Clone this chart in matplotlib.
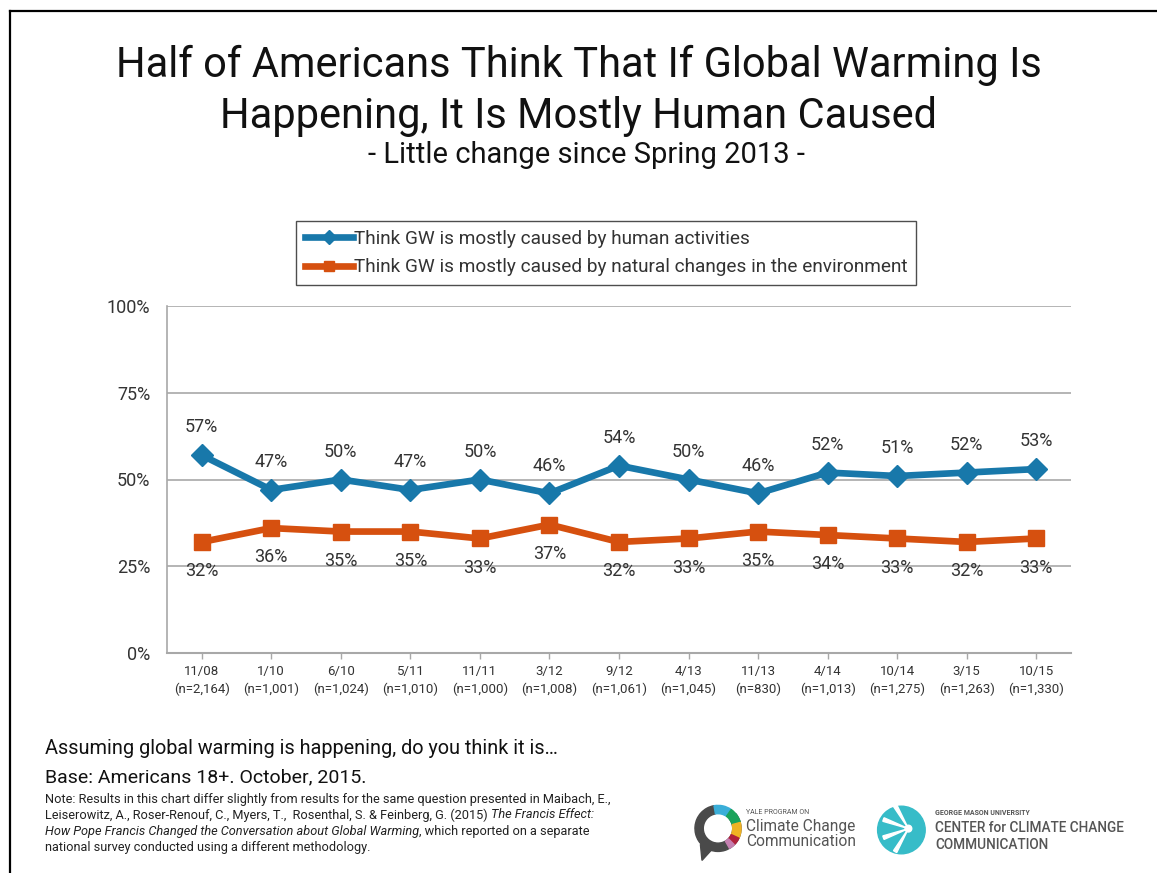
import matplotlib
matplotlib.use("Agg")
import matplotlib.pyplot as plt
from matplotlib.patches import Wedge, Circle, Polygon
from matplotlib.lines import Line2D

plt.rcParams['font.family'] = ['Roboto', 'DejaVu Sans']

# ---- data ----
dates = ["11/08", "1/10", "6/10", "5/11", "11/11", "3/12", "9/12",
         "4/13", "11/13", "4/14", "10/14", "3/15", "10/15"]
sample_n = ["2,164", "1,001", "1,024", "1,010", "1,000", "1,008", "1,061",
            "1,045", "830", "1,013", "1,275", "1,263", "1,330"]
human = [57, 47, 50, 47, 50, 46, 54, 50, 46, 52, 51, 52, 53]
natural = [32, 36, 35, 35, 33, 37, 32, 33, 35, 34, 33, 32, 33]
yticks = [0, 25, 50, 75, 100]
series_names = ["Think GW is mostly caused by human activities",
                "Think GW is mostly caused by natural changes in the environment"]

BLUE = "#1878aa"
ORANGE = "#d6500f"
GRID = "#a8a8a8"
TXT = "#333333"

W, H = 1157, 873
fig = plt.figure(figsize=(W / 100, H / 100), dpi=100)

def fx(px):
    return px / W

def fy(py):
    return 1 - py / H

# page border (left and top)
fig.add_artist(Line2D([fx(10), fx(10)], [0, fy(11)], color="black", lw=1.6))
fig.add_artist(Line2D([fx(10), 1], [fy(11), fy(11)], color="black", lw=1.6))

# titles
fig.text(0.5, fy(91), "Half of Americans Think That If Global Warming Is\nHappening, It Is Mostly Human Caused",
         ha="center", va="center", fontsize=30, color="#111111", linespacing=1.32)
fig.text(fx(587), fy(155), "- Little change since Spring 2013 -", ha="center", va="center",
         fontsize=21, color="#111111")

# main axes
ax = fig.add_axes([fx(167), fy(653), fx(1071) - fx(167), fy(306) - fy(653)])
x = list(range(len(dates)))
l1, = ax.plot(x, human, color=BLUE, lw=4.8, marker="D", markersize=11, zorder=3,
              label=series_names[0])
l2, = ax.plot(x, natural, color=ORANGE, lw=4.8, marker="s", markersize=12, zorder=3,
              label=series_names[1])
for xi, v in zip(x, human):
    ax.annotate(f"{v}%", (xi, v), xytext=(0, 20), textcoords="offset points",
                ha="center", va="center", fontsize=13, color=TXT)
for xi, v in zip(x, natural):
    ax.annotate(f"{v}%", (xi, v), xytext=(0, -21), textcoords="offset points",
                ha="center", va="center", fontsize=13, color=TXT)

ax.set_xlim(-0.5, len(dates) - 0.5)
ax.set_ylim(0, 100)
ax.set_yticks(yticks)
ax.set_yticklabels([f"{t}%" for t in yticks])
ax.tick_params(axis="y", length=0, pad=12, labelsize=13, labelcolor=TXT)
ax.set_xticks(x)
ax.set_xticklabels([f"{d}\n(n={n})" for d, n in zip(dates, sample_n)],
                   fontsize=9.5, color=TXT, linespacing=1.35)
ax.tick_params(axis="x", length=4, width=1, color=GRID, pad=5)
ax.grid(axis="y", color=GRID, lw=1.2)
ax.set_axisbelow(True)
for s in ["top", "right"]:
    ax.spines[s].set_visible(False)
ax.spines["left"].set_color(GRID)
ax.spines["bottom"].set_color(GRID)
ax.spines["left"].set_linewidth(1.2)
ax.spines["bottom"].set_linewidth(1.5)

leg = fig.legend(handles=[l1, l2], loc="center", bbox_to_anchor=(fx(606), fy(253)),
                 fontsize=13.7, frameon=True, fancybox=False, edgecolor="#222222",
                 handlelength=2.5, handletextpad=0.05, borderpad=0.45, labelspacing=0.55,
                 markerscale=0.65, borderaxespad=0)
leg.get_frame().set_linewidth(1.0)
for t in leg.get_texts():
    t.set_color(TXT)

# footer text
fig.text(fx(45), fy(748), "Assuming global warming is happening, do you think it is…",
         ha="left", va="center", fontsize=14.3, color="#111111")
fig.text(fx(45), fy(777), "Base: Americans 18+. October, 2015.",
         ha="left", va="center", fontsize=14, color="#111111")

renderer = fig.canvas.get_renderer()
note_fs = 9.2
note_lines = [
    [("Note: Results in this chart differ slightly from results for the same question presented in Maibach, E.,", "normal")],
    [("Leiserowitz, A., Roser-Renouf, C., Myers, T.,  Rosenthal, S. & Feinberg, G. (2015) ", "normal"),
     ("The Francis Effect:", "italic")],
    [("How Pope Francis Changed the Conversation about Global Warming", "italic"),
     (", which reported on a separate", "normal")],
    [("national survey conducted using a different methodology.", "normal")],
]
for i, parts in enumerate(note_lines):
    xpos = fx(45)
    ypos = fy(799 + i * 16)
    for txt, style in parts:
        t = fig.text(xpos, ypos, txt, ha="left", va="center", fontsize=note_fs,
                     style=style, color="#222222")
        bb = t.get_window_extent(renderer=renderer)
        xpos = bb.x1 / W

# Yale logo (approximation)
lax = fig.add_axes([fx(686), fy(862), fx(750) - fx(686), fy(798) - fy(862)])
lax.set_xlim(-1, 1)
lax.set_ylim(-1, 1)
lax.set_aspect("equal")
lax.axis("off")
segs = [(100, 400, "#4a4a4a"), (55, 100, "#3aaed8"), (15, 55, "#1ba35a"),
        (-25, 15, "#f0b323"), (-45, -25, "#b0213b"), (-60, -45, "#c47fb0")]
for a0, a1, c in segs:
    lax.add_patch(Wedge((0, 0.05), 0.72, a0, a1, width=0.26, color=c))
lax.add_patch(Polygon([[-0.55, -0.45], [-0.5, -0.95], [-0.2, -0.62]], color="#4a4a4a"))
fig.text(fx(746), fy(812), "YALE PROGRAM ON", fontsize=5, color="#555555", va="center")
fig.text(fx(746), fy(826), "Climate Change", fontsize=11.2, color="#555555", va="center")
fig.text(fx(746), fy(842), "Communication", fontsize=11.2, color="#555555", va="center")

# GMU logo (approximation)
gax = fig.add_axes([fx(872), fy(858), fx(928) - fx(872), fy(802) - fy(858)])
gax.set_xlim(-1, 1)
gax.set_ylim(-1, 1)
gax.set_aspect("equal")
gax.axis("off")
gax.add_patch(Circle((0.05, 0), 0.85, color="#37bcc8"))
for a in [120, 160, 200, 240]:
    gax.add_patch(Wedge((0.3, 0.05), 0.95, a - 4, a + 4, color="white"))
gax.add_patch(Circle((0.3, 0.05), 0.12, color="white"))
fig.text(fx(935), fy(813), "GEORGE MASON UNIVERSITY", fontsize=5, color="#555555",
         va="center", weight="bold")
fig.text(fx(935), fy(828), "CENTER for CLIMATE CHANGE", fontsize=9.8, color="#555555",
         va="center", weight="medium")
fig.text(fx(935), fy(845), "COMMUNICATION", fontsize=9.8, color="#555555",
         va="center", weight="medium")

fig.savefig("out.png", dpi=100)
